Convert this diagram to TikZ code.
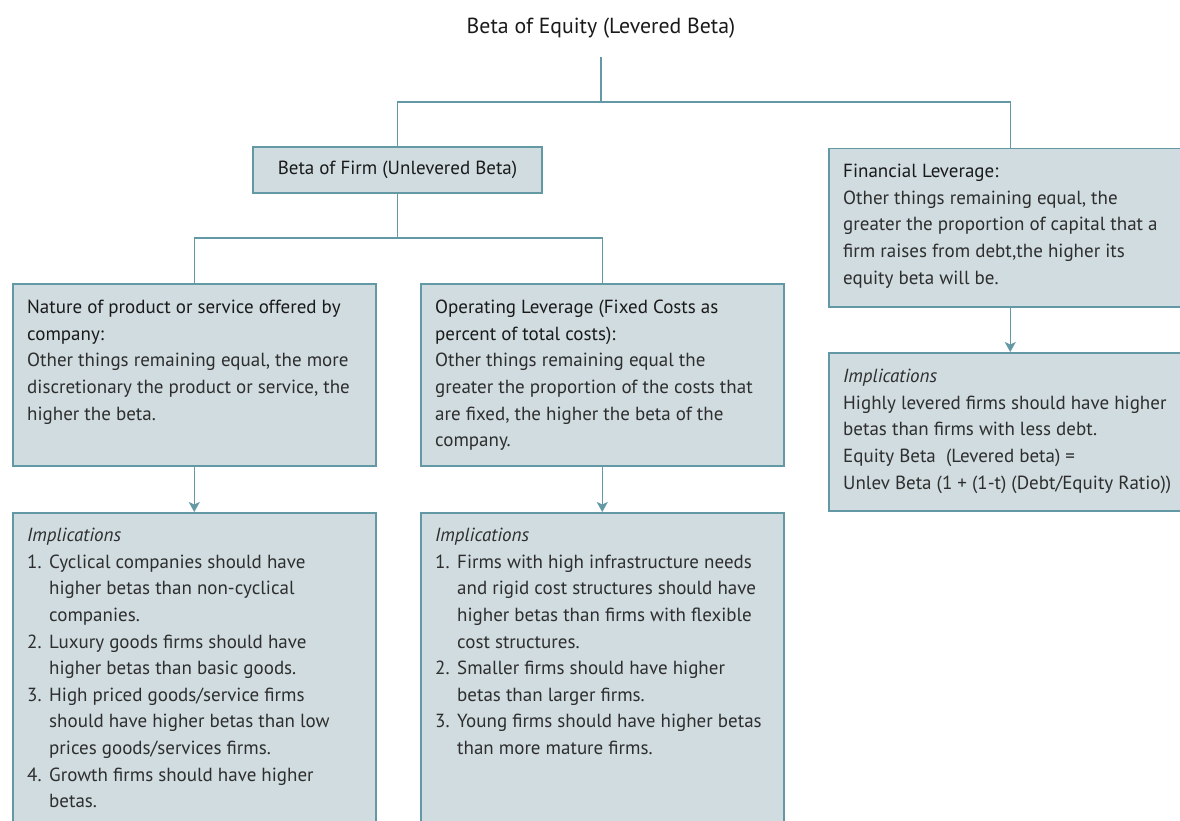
\documentclass[tikz,border=0pt]{standalone}
\usepackage{fontspec}
\setmainfont{PT Sans}
\usetikzlibrary{arrows.meta}
\definecolor{boxfill}{HTML}{D0DCE0}
\definecolor{bord}{HTML}{6399A4}
\definecolor{headc}{HTML}{1A1A1A}
\definecolor{bodyc}{HTML}{2E2E2E}
\newcommand{\itm}[1]{\makebox[22pt][l]{#1}}
\newcommand{\ind}{\hspace*{22pt}}
\tikzset{
  box/.style={draw=bord, fill=boxfill, line width=1.5pt, rectangle, inner sep=0pt,
              minimum width=363pt, anchor=north west},
  txt/.style={anchor=north west, align=left, inner sep=0pt, text=bodyc,
              font=\fontsize{19}{26.6}\selectfont},
  conn/.style={draw=bord, line width=1.4pt},
  arr/.style={conn, -{Stealth[length=10pt,width=11pt,inset=2.5pt]}}
}
\begin{document}
\begin{tikzpicture}[x=1pt,y=-1pt]
\useasboundingbox (0,0) rectangle (1180,821);
\clip (0,0) rectangle (1180,821);
\fill[white] (0,0) rectangle (1180,821);

% title
\node[font=\fontsize{21.8}{26}\selectfont, text=headc, inner sep=0pt] (title) at (601,28) {Beta of Equity (Levered Beta)};
\coordinate (t0) at (601,57);
\coordinate (j1) at (601,102);

% level 1
\node[box, minimum width=289pt, minimum height=46pt, anchor=center, text=headc,
      font=\fontsize{19}{24}\selectfont] (unlev) at (397.5,170) {Beta of Firm (Unlevered Beta)};
\node[box, minimum height=158pt] (fin) at (828,148) {};

% level 2
\node[box, minimum height=182pt] (nat) at (12,283) {};
\node[box, minimum height=182pt] (ope) at (420,283) {};
\coordinate (j2) at (397.5,238);

% implications
\node[box, minimum height=340pt] (natimp) at (12,512) {};
\node[box, minimum height=340pt] (opeimp) at (420,512) {};
\node[box, minimum height=158pt] (finimp) at (828,352) {};

% texts
\node[txt] (natT) at ([xshift=15pt,yshift=-17pt]nat.north west) {%
{\color{headc}Nature of product or service offered by}\\
{\color{headc}company:}\\
Other things remaining equal, the more\\
discretionary the product or service, the\\
higher the beta.};

\node[txt] (opeT) at ([xshift=15pt,yshift=-17pt]ope.north west) {%
{\color{headc}Operating Leverage (Fixed Costs as}\\
{\color{headc}percent of total costs):}\\
Other things remaining equal the\\
greater the proportion of the costs that\\
are fixed, the higher the beta of the\\
company.};

\node[txt] (finT) at ([xshift=15pt,yshift=-16pt]fin.north west) {%
{\color{headc}Financial Leverage:}\\
Other things remaining equal, the\\
greater the proportion of capital that a\\
firm raises from debt,the higher its\\
equity beta will be.};

\node[txt] (finimpT) at ([xshift=15pt,yshift=-17pt]finimp.north west) {%
\textit{Implications}\\
Highly levered firms should have higher\\
betas than firms with less debt.\\
Equity Beta\ \ (Levered beta) =\\
Unlev Beta (1 + (1-t) (Debt/Equity Ratio))};

\node[txt] (natimpT) at ([xshift=15pt,yshift=-16pt]natimp.north west) {%
\textit{Implications}\\
\itm{1.}Cyclical companies should have\\
\ind higher betas than non-cyclical\\
\ind companies.\\
\itm{2.}Luxury goods firms should have\\
\ind higher betas than basic goods.\\
\itm{3.}High priced goods/service firms\\
\ind should have higher betas than low\\
\ind prices goods/services firms.\\
\itm{4.}Growth firms should have higher\\
\ind betas.};

\node[txt] (opeimpT) at ([xshift=15pt,yshift=-16pt]opeimp.north west) {%
\textit{Implications}\\
\itm{1.}Firms with high infrastructure needs\\
\ind and rigid cost structures should have\\
\ind higher betas than firms with flexible\\
\ind cost structures.\\
\itm{2.}Smaller firms should have higher\\
\ind betas than larger firms.\\
\itm{3.}Young firms should have higher betas\\
\ind than more mature firms.};

% connectors
\draw[conn] (t0) -- (j1);
\draw[conn] (j1) -| (unlev.north);
\draw[conn] (j1) -| (fin.north);
\draw[conn] (unlev.south) -- (j2);
\draw[conn] (j2) -| (nat.north);
\draw[conn] (j2) -| (ope.north);
\draw[arr] (nat.south) -- (natimp.north);
\draw[arr] (ope.south) -- (opeimp.north);
\draw[arr] (fin.south) -- (finimp.north);
\end{tikzpicture}
\end{document}
